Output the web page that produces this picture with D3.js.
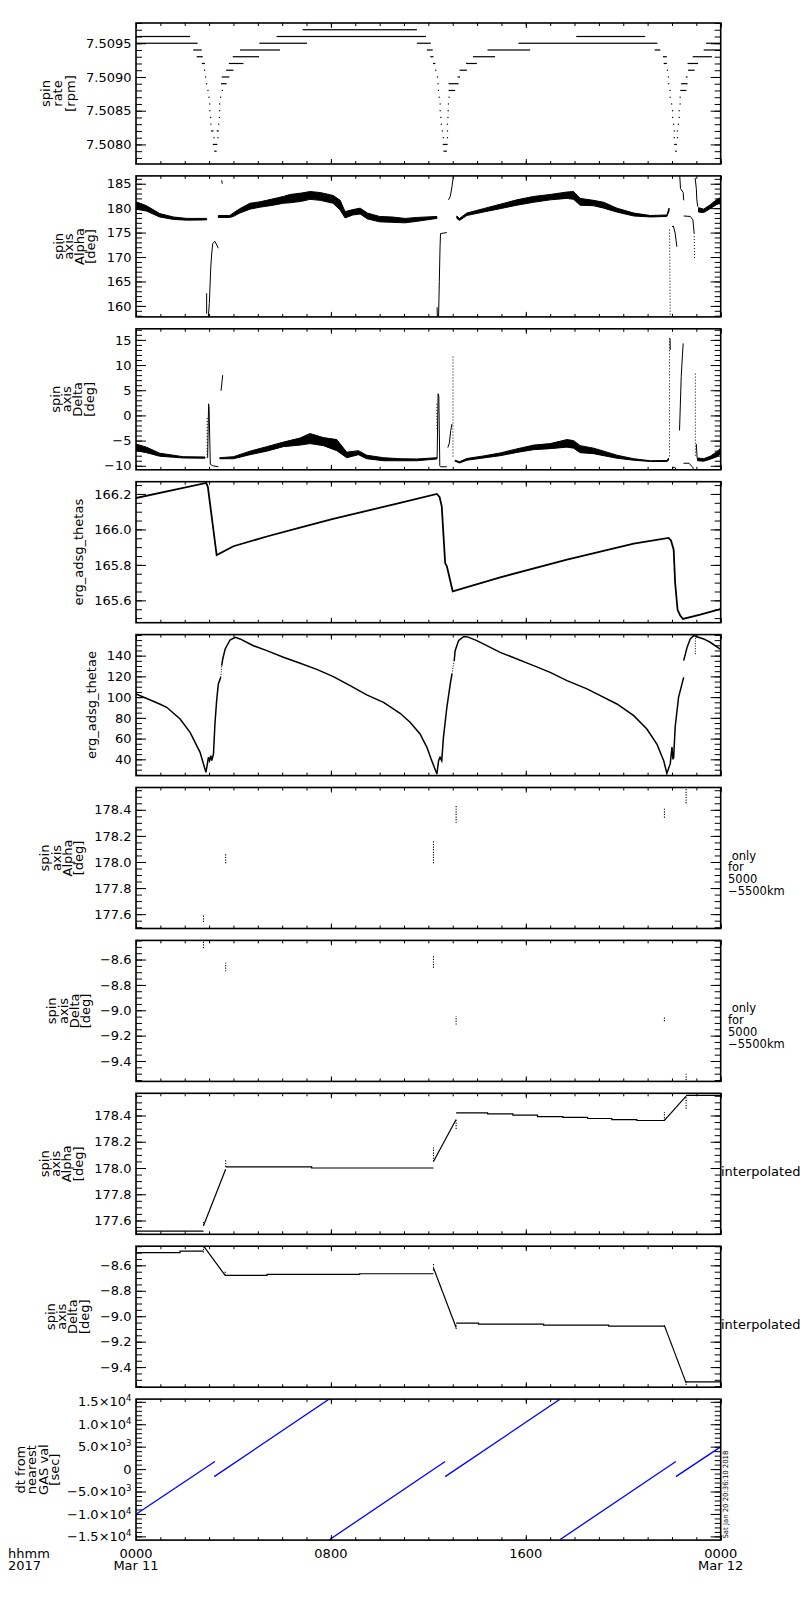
<!DOCTYPE html>
<html>
<head>
<meta charset="utf-8">
<script src="https://cdn.jsdelivr.net/npm/d3@7"></script>
<style>
  body { margin: 0; background: #fff; }
  svg { display: block; font-family: 'DejaVu Sans', sans-serif; }
</style>
</head>
<body>
<svg id="chart" width="800" height="1600"></svg>
<script>
// ===== データ (時間軸は Mar 11 0000 からの時間 [h]) =====

// x軸
const xMajorTicks = [0, 8, 16, 24];
const xTickLabels = [['0000', 'Mar 11'], ['0800'], ['1600'], ['0000', 'Mar 12']];
const xCornerLabel = ['hhmm', '2017'];
const stampText = 'Sat Jan 20 20:36:10 2018';

// パネルのタイトルと注記
const panelTitles = [
    ['spin', 'rate', '[rpm]'],
    ['spin', 'axis', 'Alpha', '[deg]'],
    ['spin', 'axis', 'Delta', '[deg]'],
    ['erg_adsg_thetas'],
    ['erg_adsg_thetae'],
    ['spin', 'axis', 'Alpha', '[deg]'],
    ['spin', 'axis', 'Delta', '[deg]'],
    ['spin', 'axis', 'Alpha', '[deg]'],
    ['spin', 'axis', 'Delta', '[deg]'],
    ['dt from', 'nearest', 'GAS val', '[sec]']
];
const onlyNote = [' only', 'for', '5000', '\u22125500km'];
const interpNote = ['interpolated'];

// y軸の範囲と目盛
const yDomains = [
    [7.50771, 7.5098], [157.75, 186.6], [-10.8, 17.2], [165.474, 166.269], [24.3, 160.3],
    [177.49, 178.571], [-9.561, -8.449], [177.495, 178.569], [-9.558, -8.4495], [-15830, 15606]
];
const yMajorTicks = [
    [7.5080, 7.5085, 7.5090, 7.5095],
    [160, 165, 170, 175, 180, 185],
    [-10, -5, 0, 5, 10, 15],
    [165.6, 165.8, 166.0, 166.2],
    [40, 60, 80, 100, 120, 140],
    [177.6, 177.8, 178.0, 178.2, 178.4],
    [-9.4, -9.2, -9.0, -8.8, -8.6],
    [177.6, 177.8, 178.0, 178.2, 178.4],
    [-9.4, -9.2, -9.0, -8.8, -8.6],
    [-15000, -10000, -5000, 0, 5000, 10000, 15000]
];
const yTickLabels = [
    ['7.5080', '7.5085', '7.5090', '7.5095'],
    ['160', '165', '170', '175', '180', '185'],
    ['\u221210', '\u22125', '0', '5', '10', '15'],
    ['165.6', '165.8', '166.0', '166.2'],
    ['40', '60', '80', '100', '120', '140'],
    ['177.6', '177.8', '178.0', '178.2', '178.4'],
    ['\u22129.4', '\u22129.2', '\u22129.0', '\u22128.8', '\u22128.6'],
    ['177.6', '177.8', '178.0', '178.2', '178.4'],
    ['\u22129.4', '\u22129.2', '\u22129.0', '\u22128.8', '\u22128.6'],
    ['\u22121.5\u00d710^4', '\u22121.0\u00d710^4', '\u22125.0\u00d710^3', '0', '5.0\u00d710^3', '1.0\u00d710^4', '1.5\u00d710^4']
];
const yMinorSteps = [0.0001, 1, 1, 0.05, 5, 0.05, 0.05, 0.05, 0.05, 1000];

// 1: spin rate の量子化されたレベル [開始h, 終了h, rpm]
const spinRateRuns = [
    [6.84, 11.53, 7.5097],
    [0, 2.22, 7.5096], [5.77, 11.9, 7.5096], [18.07, 20.9, 7.5096],
    [0, 2.53, 7.5095], [5.06, 7.02, 7.5095], [11.53, 12.1, 7.5095], [15.7, 21.4, 7.5095], [23.4, 24, 7.5095],
    [2.35, 2.7, 7.5094], [4.27, 5.91, 7.5094], [11.94, 12.18, 7.5094], [14.43, 16.18, 7.5094], [21.29, 21.52, 7.5094], [23.3, 24, 7.5094],
    [2.49, 2.74, 7.5093], [3.97, 5.05, 7.5093], [12.08, 12.21, 7.5093], [13.83, 14.74, 7.5093], [21.63, 21.79, 7.5093], [22.85, 23.64, 7.5093],
    [2.70, 2.83, 7.5092], [3.81, 4.41, 7.5092], [12.19, 12.29, 7.5092], [13.55, 13.99, 7.5092], [21.66, 21.79, 7.5092], [22.64, 23.07, 7.5092],
    [2.79, 2.79, 7.5091], [3.70, 4.0, 7.5091], [12.28, 12.28, 7.5091], [13.28, 13.58, 7.5091], [21.79, 21.79, 7.5091], [22.66, 22.93, 7.5091],
    [2.83, 2.83, 7.5090], [3.52, 3.83, 7.5090], [12.35, 12.35, 7.5090], [13.2, 13.3, 7.5090], [21.83, 21.83, 7.5090], [22.57, 22.64, 7.5090],
    [2.87, 2.87, 7.5089], [3.49, 3.72, 7.5089], [12.37, 12.37, 7.5089], [12.83, 13.24, 7.5089], [21.84, 21.84, 7.5089], [22.38, 22.64, 7.5089],
    [2.93, 2.93, 7.5088], [3.52, 3.52, 7.5088], [12.39, 12.39, 7.5088], [12.83, 13.1, 7.5088], [21.9, 21.9, 7.5088], [22.34, 22.59, 7.5088],
    [2.97, 2.97, 7.5087], [3.45, 3.45, 7.5087], [12.42, 12.42, 7.5087], [12.83, 12.83, 7.5087], [21.9, 21.9, 7.5087], [22.31, 22.31, 7.5087],
    [3.0, 3.0, 7.5086], [3.41, 3.41, 7.5086], [12.46, 12.46, 7.5086], [12.8, 12.8, 7.5086], [21.96, 21.96, 7.5086], [22.31, 22.31, 7.5086],
    [3.01, 3.01, 7.5085], [3.41, 3.41, 7.5085], [12.46, 12.46, 7.5085], [12.79, 12.79, 7.5085], [22.0, 22.0, 7.5085], [22.27, 22.27, 7.5085],
    [3.04, 3.04, 7.5084], [3.4, 3.4, 7.5084], [12.49, 12.49, 7.5084], [12.78, 12.78, 7.5084], [22.0, 22.0, 7.5084], [22.27, 22.27, 7.5084],
    [3.05, 3.05, 7.5083], [3.37, 3.37, 7.5083], [12.51, 12.51, 7.5083], [12.76, 12.76, 7.5083], [22.04, 22.04, 7.5083], [22.24, 22.24, 7.5083],
    [3.08, 3.18, 7.5082], [3.31, 3.4, 7.5082], [12.55, 12.55, 7.5082], [12.76, 12.76, 7.5082], [22.07, 22.07, 7.5082], [22.2, 22.2, 7.5082],
    [3.18, 3.18, 7.5081], [3.34, 3.34, 7.5081], [12.59, 12.59, 7.5081], [12.76, 12.76, 7.5081], [22.07, 22.07, 7.5081], [22.2, 22.2, 7.5081],
    [3.15, 3.34, 7.5080], [12.59, 12.79, 7.5080], [22.09, 22.2, 7.5080],
    [3.21, 3.31, 7.5079], [12.62, 12.76, 7.5079], [22.13, 22.2, 7.5079]
];

// 2: spin axis Alpha の散布帯 [h, 下限, 上限]
const alphaBands = [
    [[0, 179.8, 181.3], [0.43, 179.4, 180.5], [0.97, 178.2, 178.9], [1.53, 177.7, 178.2], [2.08, 177.55, 177.9], [2.9, 177.6, 177.9]],
    [[3.38, 178.1, 178.5], [3.85, 178.1, 178.5], [3.99, 178.3, 179.0], [4.26, 179.0, 179.9], [4.68, 179.8, 181.0], [5.09, 180.2, 181.3],
     [5.63, 180.6, 181.9], [6.05, 181.0, 182.4], [6.32, 181.1, 182.8], [6.8, 181.4, 183.1], [7.14, 181.8, 183.4], [7.56, 181.6, 183.2],
     [8.09, 181.0, 182.6], [8.38, 179.6, 181.6], [8.58, 178.0, 179.3], [8.9, 178.6, 179.7], [9.2, 178.8, 180.0], [9.5, 177.8, 179.0],
     [10.0, 177.2, 178.3], [10.5, 177.1, 178.2], [11.05, 177.0, 177.9], [11.53, 177.3, 178.1], [12.35, 177.9, 178.3]],
    [[13.17, 177.9, 178.4], [13.28, 177.5, 177.9], [13.58, 178.5, 179.0], [14.26, 179.2, 179.9], [14.95, 179.9, 180.8], [15.63, 180.6, 181.7],
     [16.32, 181.2, 182.4], [17.0, 181.7, 182.8], [17.69, 182.0, 183.3], [17.96, 181.8, 183.4], [18.23, 180.6, 182.0], [18.78, 180.5, 181.6],
     [19.2, 180.0, 181.2], [19.74, 179.2, 180.0], [20.43, 178.4, 179.0], [21.11, 178.2, 178.5], [21.79, 178.3, 178.6], [21.88, 179.4, 180.0]],
    [[23.09, 179.2, 180.1], [23.3, 179.1, 179.8], [23.57, 179.9, 180.7], [23.85, 180.8, 181.8], [23.98, 181.0, 182.1]]
];
const alphaLines = [
    [[2.9, 162.6], [2.9, 158.4]],
    [[2.97, 157.8], [3.01, 160.5], [3.07, 168.0], [3.11, 170.8], [3.15, 172.8], [3.24, 173.2], [3.38, 171.8]],
    [[3.52, 185.7], [3.54, 185.0]],
    [[12.36, 159.7], [12.37, 157.8]],
    [[12.42, 157.8], [12.45, 165.0], [12.48, 172.0], [12.5, 174.8], [12.76, 175.0]],
    [[12.83, 181.7], [12.9, 182.4], [12.97, 184.4], [13.03, 186.6]],
    [[22.0, 176.2], [22.06, 176.3], [22.13, 174.9], [22.2, 172.1]],
    [[22.32, 186.6], [22.35, 184.0], [22.46, 183.2], [22.48, 181.6]],
    [[22.48, 178.4], [22.75, 178.3], [22.86, 177.6], [22.91, 174.9]],
    [[22.95, 186.2], [23.0, 184.0], [23.02, 181.7], [23.06, 180.3]]
];
const alphaDotted = [
    [[21.9, 175.6], [21.93, 157.8]],
    [[22.91, 174.9], [22.93, 169.4]]
];

// 3: spin axis Delta
const deltaBands = [
    [[0, -7.0, -5.7], [0.43, -7.4, -6.3], [0.97, -8.1, -7.5], [1.53, -8.3, -7.9], [1.94, -8.45, -8.2], [2.83, -8.5, -8.25]],
    [[3.44, -8.6, -8.4], [4.0, -8.6, -8.2], [4.68, -7.8, -7.1], [5.37, -7.1, -6.2], [6.05, -6.2, -5.3], [6.73, -5.9, -4.5],
     [7.14, -5.6, -3.6], [7.69, -6.0, -4.4], [8.24, -7.0, -4.8], [8.65, -8.4, -7.3], [9.13, -7.8, -7.0], [9.47, -8.6, -7.9],
     [10.16, -9.0, -8.4], [10.84, -9.0, -8.6], [11.53, -9.0, -8.65], [12.35, -8.65, -8.4]],
    [[13.1, -9.1, -8.9], [13.28, -9.45, -9.2], [13.58, -8.9, -8.55], [14.26, -8.45, -8.05], [14.95, -8.0, -7.45], [15.63, -7.35, -6.65],
     [16.32, -6.8, -5.9], [17.0, -6.6, -5.6], [17.69, -6.3, -4.8], [17.96, -6.5, -5.0], [18.23, -7.4, -6.0], [18.78, -7.6, -6.5],
     [19.2, -8.0, -7.1], [19.74, -8.5, -7.9], [20.43, -8.9, -8.6], [21.11, -9.15, -9.0], [21.79, -9.15, -8.95], [21.86, -8.9, -8.5]],
    [[23.06, -9.0, -8.45], [23.3, -9.1, -8.6], [23.57, -8.7, -8.1], [23.85, -8.2, -7.2], [23.98, -7.7, -6.6]]
];
const deltaLines = [
    [[2.94, -8.4], [2.98, 2.3], [3.0, 1.5], [3.05, -9.7], [3.15, -10.0], [3.38, -10.2]],
    [[3.49, 4.9], [3.56, 8.0]],
    [[12.36, -8.5], [12.4, 4.3], [12.43, 3.8], [12.47, -10.0], [12.5, -10.2], [12.76, -10.2]],
    [[12.8, -6.4], [12.86, -5.5], [12.92, -3.0], [12.97, -1.7]],
    [[21.92, 15.3], [21.93, 13.0]],
    [[22.0, -10.9], [22.05, -10.3], [22.12, -10.3], [22.18, -10.9]],
    [[22.31, -3.0], [22.38, 7.7], [22.43, 12.0], [22.46, 14.3]],
    [[22.47, -9.5], [22.7, -9.5], [22.85, -10.3], [22.9, -10.9]],
    [[23.0, -5.7], [23.03, -8.3], [23.06, -9.0]]
];
const deltaDotted = [
    [[2.92, -0.5], [2.92, -8.4]],
    [[12.35, 2.3], [12.35, -3.0]],
    [[13.01, 11.7], [13.01, -8.3]],
    [[21.9, 15.3], [21.9, -8.5]],
    [[22.96, 8.3], [22.96, -8.3]]
];

// 4: erg_adsg_thetas
const thetasLines = [
    [[0, 166.177], [2.88, 166.262], [2.95, 166.24], [3.31, 165.855], [4.0, 165.905], [5.37, 165.96], [6.73, 166.01],
     [8.09, 166.06], [9.47, 166.105], [10.84, 166.149], [12.35, 166.2], [12.46, 166.183], [12.55, 166.13], [12.69, 165.81],
     [12.76, 165.792], [13.0, 165.651], [14.95, 165.73], [17.69, 165.83], [20.43, 165.92], [21.86, 165.952], [21.96, 165.938],
     [22.07, 165.886], [22.13, 165.698], [22.23, 165.547], [22.34, 165.514], [22.45, 165.495], [23.16, 165.519], [23.98, 165.551]]
];

// 5: erg_adsg_thetae
const thetaeLines = [
    [[0, 103.0], [0.97, 93.4], [1.26, 90.2], [1.81, 78.9], [2.22, 66.0], [2.63, 46.7], [2.87, 27.4], [2.93, 35.5], [2.97, 41.9],
     [3.02, 38.7], [3.07, 43.5], [3.11, 38.7], [3.18, 45.1], [3.24, 74.1], [3.31, 96.6], [3.38, 112.7], [3.48, 119.1]],
    [[3.52, 130.4], [3.56, 136.8], [3.66, 146.4], [3.86, 155.1], [4.07, 157.7], [4.27, 156.1], [4.82, 149.6], [5.37, 144.8],
     [6.05, 138.4], [6.74, 132.6], [7.42, 126.8], [8.10, 119.8], [8.79, 111.0], [9.47, 102.1], [10.16, 95.0], [10.84, 84.4],
     [11.25, 75.8], [11.66, 64.5], [11.94, 51.6], [12.14, 38.7], [12.35, 25.8], [12.42, 38.7], [12.48, 41.9], [12.55, 38.7],
     [12.62, 61.2], [12.76, 90.2], [12.9, 112.7], [12.97, 122.4]],
    [[13.06, 135.0], [13.1, 144.8], [13.24, 154.5], [13.44, 158.3], [13.58, 158.3], [13.99, 154.5], [14.95, 143.2], [16.32, 130.4],
     [17.0, 123.9], [17.69, 115.9], [18.51, 107.9], [19.06, 101.4], [19.74, 93.4], [20.43, 82.1], [20.97, 69.2], [21.38, 54.8],
     [21.66, 38.7], [21.79, 26.5], [21.93, 35.8], [22.0, 51.9], [22.04, 40.0], [22.07, 42.0], [22.13, 70.9], [22.27, 99.8],
     [22.34, 106.3], [22.48, 119.1]],
    [[22.48, 135.2], [22.62, 148.0], [22.75, 156.1], [22.89, 159.3], [23.02, 158.3], [23.3, 156.1], [23.57, 152.9], [23.98, 146.4]]
];
const thetaeDotted = [
    [[3.48, 119.1], [3.52, 130.4]],
    [[12.97, 122.4], [13.06, 135.0]],
    [[22.96, 159.3], [22.96, 140.0]]
];

// 6, 7: 5000-5500km のときのみ [h, 下限, 上限]
const alphaOnlyClusters = [[2.77, 177.54, 177.6], [3.68, 177.99, 178.06], [12.21, 177.99, 178.16], [13.14, 178.3, 178.43], [21.69, 178.34, 178.42], [22.58, 178.45, 178.56]];
const deltaOnlyClusters = [[2.77, -8.51, -8.449], [3.68, -8.693, -8.626], [12.21, -8.665, -8.573], [13.14, -9.113, -9.047], [21.69, -9.087, -9.047], [22.58, -9.55, -9.5]];

// 8, 9: 補間値
const alphaInterpLines = [
    [[0, 177.519], [2.77, 177.519]],
    [[2.77, 177.56], [3.68, 177.99]],
    [[3.68, 178.009], [7.21, 178.009], [7.21, 178.0], [12.21, 178.0]],
    [[12.21, 178.05], [13.14, 178.37]],
    [[13.14, 178.42], [14.43, 178.42], [14.43, 178.413], [15.47, 178.413], [15.47, 178.403], [16.48, 178.403], [16.48, 178.392],
     [17.52, 178.392], [17.52, 178.385], [18.54, 178.385], [18.54, 178.377], [19.53, 178.377], [19.53, 178.369], [20.56, 178.369],
     [20.56, 178.362], [21.69, 178.362]],
    [[21.69, 178.362], [22.58, 178.548]],
    [[22.58, 178.553], [24, 178.553]]
];
const alphaInterpClusters = [[2.77, 177.56, 177.6], [3.68, 178.01, 178.068], [12.21, 178.05, 178.157], [13.14, 178.298, 178.37], [21.69, 178.36, 178.425], [22.58, 178.451, 178.55]];
const deltaInterpLines = [
    [[0, -8.5], [1.81, -8.5], [1.81, -8.489], [2.77, -8.489]],
    [[2.77, -8.447], [3.66, -8.679]],
    [[3.66, -8.679], [5.38, -8.679], [5.38, -8.671], [9.18, -8.671], [9.18, -8.666], [12.21, -8.666]],
    [[12.21, -8.62], [13.14, -9.088]],
    [[13.14, -9.054], [14.06, -9.054], [14.06, -9.062], [16.73, -9.062], [16.73, -9.07], [19.4, -9.07], [19.4, -9.078], [21.69, -9.078]],
    [[21.69, -9.074], [22.58, -9.524]],
    [[22.58, -9.516], [24, -9.516]]
];
const deltaInterpClusters = [[2.77, -8.5, -8.45], [3.66, -8.68, -8.65], [12.21, -8.64, -8.587], [13.14, -9.1, -9.06], [21.69, -9.08, -9.06], [22.58, -9.54, -9.5]];

// 10: 最も近いGAS値からの時間差 [sec]
const dtSegments = [
    [[0, -10054], [3.24, 1687]],
    [[3.21, -1680], [7.97, 15763]],
    [[7.95, -15700], [12.69, 1687]],
    [[12.69, -1680], [17.45, 15750]],
    [[17.41, -15700], [22.16, 1687]],
    [[22.16, -1680], [23.98, 4897]]
];

// ===== レイアウト =====
const plotLeft = 136, plotRight = 720.7;
const panelTop0 = 23, panelStep = 152.9, panelH = 141;
const titleCx = [57.7, 74.2, 72.2, 78.7, 91.2, 61.7, 68.7, 61.2, 67.2, 37.2];
const titlePitch = [12.75, 10.8, 11.3, 13, 13, 11.2, 11.3, 11.2, 11.3, 11.5];
const fontSize = 13;

const svg = d3.select('#chart');
const x = d3.scaleLinear().domain([0, 24]).range([plotLeft, plotRight]);

// プロット領域のクリップ
const defs = svg.append('defs');
defs.append('clipPath').attr('id', 'plot-clip')
    .append('rect')
    .attr('x', plotLeft)
    .attr('y', 0)
    .attr('width', plotRight - plotLeft)
    .attr('height', panelH);

// ===== 描画ヘルパー =====
function drawLines(g, y, lines, opts = {}) {
    const line = d3.line().x(d => x(d[0])).y(d => y(d[1]));
    g.selectAll(null)
        .data(lines)
        .enter()
        .append('path')
        .attr('d', line)
        .attr('fill', 'none')
        .attr('stroke', opts.color || '#000')
        .attr('stroke-width', opts.width || 1.2)
        .attr('stroke-dasharray', opts.dash || null);
}

// 散布点の密な帯
function drawBands(g, y, bands) {
    const area = d3.area().x(d => x(d[0])).y0(d => y(d[1])).y1(d => y(d[2]));
    g.selectAll(null).data(bands).enter().append('path')
        .attr('d', area)
        .attr('fill', '#000')
        .attr('stroke', '#000')
        .attr('stroke-width', 1)
        .attr('stroke-linejoin', 'round');
}

function drawClusters(g, y, clusters) {
    g.selectAll(null)
        .data(clusters)
        .enter()
        .append('line')
        .attr('x1', d => x(d[0]))
        .attr('x2', d => x(d[0]))
        .attr('y1', d => y(d[1]))
        .attr('y2', d => y(d[2]))
        .attr('stroke', '#000')
        .attr('stroke-width', 1.1)
        .attr('stroke-dasharray', '1.2,1.4');
}

function drawRuns(g, y, runs) {
    g.selectAll(null)
        .data(runs)
        .enter()
        .append('rect')
        .attr('x', d => x(d[0]))
        .attr('y', d => y(d[2]) - 0.6)
        .attr('width', d => Math.max(x(d[1]) - x(d[0]), 1.2))
        .attr('height', 1.2)
        .attr('fill', '#000');
}

// パネルごとの中身
const panelDraw = [
    (g, y) => drawRuns(g, y, spinRateRuns),
    (g, y) => { drawBands(g, y, alphaBands); drawLines(g, y, alphaLines, { width: 1 }); drawLines(g, y, alphaDotted, { width: 1, dash: '1,2' }); },
    (g, y) => { drawBands(g, y, deltaBands); drawLines(g, y, deltaLines, { width: 1 }); drawLines(g, y, deltaDotted, { width: 1, dash: '1,2' }); },
    (g, y) => drawLines(g, y, thetasLines, { width: 1.8 }),
    (g, y) => { drawLines(g, y, thetaeLines, { width: 1.5 }); drawLines(g, y, thetaeDotted, { width: 1, dash: '1,1.5' }); },
    (g, y) => drawClusters(g, y, alphaOnlyClusters),
    (g, y) => drawClusters(g, y, deltaOnlyClusters),
    (g, y) => { drawLines(g, y, alphaInterpLines, { width: 1.2 }); drawClusters(g, y, alphaInterpClusters); },
    (g, y) => { drawLines(g, y, deltaInterpLines, { width: 1.2 }); drawClusters(g, y, deltaInterpClusters); },
    (g, y) => drawLines(g, y, dtSegments, { color: '#0000ff', width: 1.3 })
];
const panelNotes = [null, null, null, null, null, onlyNote, onlyNote, interpNote, interpNote, null];

// 軸の目盛り
function drawAxes(g, y, i) {
    const [lo, hi] = yDomains[i];
    const step = yMinorSteps[i];
    const minor = d3.range(Math.ceil(lo / step - 1e-6), Math.floor(hi / step + 1e-6) + 1).map(k => k * step);
    const labels = yTickLabels[i];

    const left = g.append('g')
        .attr('transform', `translate(${plotLeft},0)`)
        .call(d3.axisLeft(y).tickValues(yMajorTicks[i]).tickFormat((d, k) => labels[k])
            .tickSizeInner(-10).tickSizeOuter(0).tickPadding(4.5));
    left.append('g').call(d3.axisLeft(y).tickValues(minor).tickFormat('').tickSizeInner(-6).tickSizeOuter(0));
    left.attr('font-size', fontSize).attr('font-family', "'DejaVu Sans', sans-serif");
    left.selectAll('text').attr('fill', '#000').each(function () {
        const t = d3.select(this);
        const s = t.text();
        if (s.includes('^')) {
            const [base, exp] = s.split('^');
            t.text(base);
            t.append('tspan').attr('dy', -5).attr('font-size', 8.5).text(exp);
        }
    });

    const right = g.append('g').attr('transform', `translate(${plotRight},0)`);
    right.call(d3.axisRight(y).tickValues(yMajorTicks[i]).tickFormat('').tickSizeInner(-10).tickSizeOuter(0));
    right.append('g').call(d3.axisRight(y).tickValues(minor).tickFormat('').tickSizeInner(-6).tickSizeOuter(0));

    const hours = d3.range(0, 25);
    const top = g.append('g');
    top.call(d3.axisTop(x).tickValues(xMajorTicks).tickFormat('').tickSizeInner(-5).tickSizeOuter(0));
    top.append('g').call(d3.axisTop(x).tickValues(hours).tickFormat('').tickSizeInner(-3).tickSizeOuter(0));
    const bottom = g.append('g').attr('transform', `translate(0,${panelH})`);
    bottom.call(d3.axisBottom(x).tickValues(xMajorTicks).tickFormat('').tickSizeInner(-5).tickSizeOuter(0));
    bottom.append('g').call(d3.axisBottom(x).tickValues(hours).tickFormat('').tickSizeInner(-3).tickSizeOuter(0));

    g.selectAll('.domain').remove();
    g.selectAll('.tick line').attr('stroke', '#000').attr('stroke-width', 1);
}

// ===== パネルの描画 =====
panelTitles.forEach((title, i) => {
    const top = panelTop0 + i * panelStep;
    const g = svg.append('g').attr('transform', `translate(0,${top})`);
    const y = d3.scaleLinear().domain(yDomains[i]).range([panelH, 0]);

    // データ
    const plot = g.append('g').attr('clip-path', 'url(#plot-clip)');
    panelDraw[i](plot, y);

    drawAxes(g, y, i);

    // 枠
    g.append('rect')
        .attr('x', plotLeft)
        .attr('y', 0)
        .attr('width', plotRight - plotLeft)
        .attr('height', panelH)
        .attr('fill', 'none')
        .attr('stroke', '#000')
        .attr('stroke-width', 1.6);

    // y軸タイトル (縦書き)
    const n = title.length;
    const tt = g.append('text')
        .attr('transform', `translate(${titleCx[i]},${panelH / 2}) rotate(-90)`)
        .attr('text-anchor', 'middle')
        .attr('font-size', fontSize);
    title.forEach((line, k) => {
        tt.append('tspan')
            .attr('x', 0)
            .attr('y', (k - (n - 1) / 2) * titlePitch[i])
            .attr('dy', '0.35em')
            .text(line);
    });

    // 右側の注記
    const note = panelNotes[i];
    if (note) {
        const isInterp = note.length === 1;
        const nt = g.append('text')
            .attr('font-size', isInterp ? fontSize : 11.5)
            .style('white-space', 'pre');
        note.forEach((line, k) => {
            nt.append('tspan')
                .attr('x', isInterp ? 721 : 728)
                .attr('y', panelH / 2 + (isInterp ? 12.5 : 1.5) + k * 11.8)
                .text(line);
        });
    }
});

// ===== x軸ラベル =====
const lastBottom = panelTop0 + 9 * panelStep + panelH;
xMajorTicks.forEach((h, i) => {
    const t = svg.append('text')
        .attr('text-anchor', 'middle')
        .attr('font-size', fontSize);
    xTickLabels[i].forEach((line, k) => {
        t.append('tspan')
            .attr('x', x(h))
            .attr('y', lastBottom + 18 + k * 12)
            .text(line);
    });
});
const corner = svg.append('text').attr('font-size', fontSize);
xCornerLabel.forEach((line, k) => {
    corner.append('tspan')
        .attr('x', 8)
        .attr('y', lastBottom + 18 + k * 12)
        .text(line);
});

// 作成日時のスタンプ
svg.append('text')
    .attr('transform', `translate(727.5,${lastBottom - 1.5}) rotate(-90)`)
    .attr('font-size', 7.2)
    .attr('textLength', 88)
    .attr('lengthAdjust', 'spacingAndGlyphs')
    .text(stampText);
</script>
</body>
</html>
